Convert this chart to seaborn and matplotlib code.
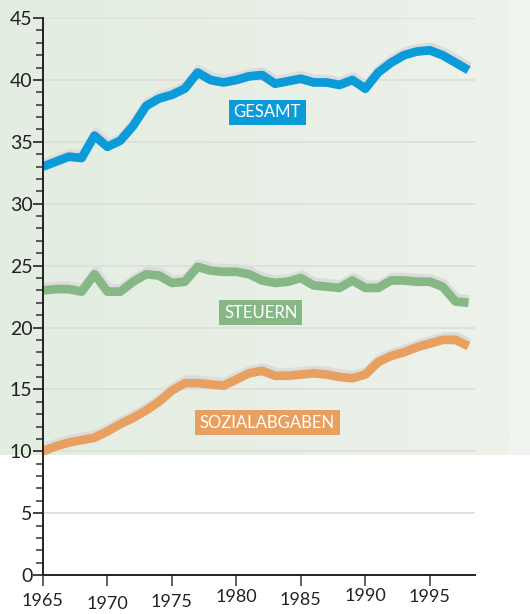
import numpy as np
import pandas as pd
import seaborn as sns
import matplotlib.pyplot as plt
import matplotlib.patheffects as pe
from matplotlib.transforms import ScaledTranslation
from matplotlib.colors import LinearSegmentedColormap

# Data (percent, yearly)
years = list(range(1965, 1999))
gesamt = [33.0, 33.4, 33.8, 33.7, 35.5, 34.6, 35.1, 36.3, 37.9, 38.5,
          38.8, 39.3, 40.6, 40.0, 39.8, 40.0, 40.3, 40.4, 39.7, 39.9,
          40.1, 39.8, 39.8, 39.6, 40.0, 39.3, 40.6, 41.4, 42.0, 42.3,
          42.4, 42.0, 41.4, 40.8]
steuern = [23.0, 23.1, 23.1, 22.9, 24.3, 22.9, 22.9, 23.7, 24.3, 24.2,
           23.6, 23.7, 24.9, 24.6, 24.5, 24.5, 24.3, 23.8, 23.6, 23.7,
           24.0, 23.4, 23.3, 23.2, 23.8, 23.2, 23.2, 23.8, 23.8, 23.7,
           23.7, 23.3, 22.1, 22.0]
sozial = [10.0, 10.4, 10.7, 10.9, 11.1, 11.6, 12.2, 12.7, 13.3, 14.0,
          14.9, 15.5, 15.5, 15.4, 15.3, 15.8, 16.3, 16.5, 16.1, 16.1,
          16.2, 16.3, 16.2, 16.0, 15.9, 16.2, 17.2, 17.7, 18.0, 18.4,
          18.7, 19.0, 19.0, 18.5]
series_names = ['GESAMT', 'STEUERN', 'SOZIALABGABEN']
series_colors = ['#0a9bd8', '#86b886', '#e8a060']
label_pos = [(1982.4, 37.4), (1981.9, 21.2), (1982.4, 12.3)]
xticks = [1965, 1970, 1975, 1980, 1985, 1990, 1995]
xlabel_shift = [0, 3, 1, -4, -1, -5, -4]  # px, labels are slightly staggered

df = pd.DataFrame({'year': years, 'GESAMT': gesamt,
                   'STEUERN': steuern, 'SOZIALABGABEN': sozial})

sns.set_style('ticks')
plt.rcParams['font.family'] = ['Lato', 'DejaVu Sans']

fig = plt.figure(figsize=(5.30, 6.14), dpi=100)

# light green gradient panel behind the upper part
bg = fig.add_axes([0, 0.259, 0.962, 0.741], zorder=-5)
grad = np.linspace(0, 1, 256).reshape(1, -1)
cmap = LinearSegmentedColormap.from_list('bg', ['#e3ede1', '#edf2eb'])
bg.imshow(grad, aspect='auto', cmap=cmap, extent=[0, 1, 0, 1])
bg.set_xlim(0, 1)
bg.set_ylim(0, 1)
bg.axis('off')
strip = fig.add_axes([0.962, 0.259, 0.038, 0.741], zorder=-5)
strip.set_facecolor('#f0f4ef')
strip.set_xticks([])
strip.set_yticks([])
for s in strip.spines.values():
    s.set_visible(False)

ax = fig.add_axes([0.081, 0.0635, 0.815, 0.907])
ax.patch.set_alpha(0)

for name, col in zip(series_names, series_colors):
    sns.lineplot(data=df, x='year', y=name, ax=ax, color=col, linewidth=6.3,
                 solid_capstyle='butt', solid_joinstyle='round',
                 path_effects=[pe.SimpleLineShadow(offset=(0.8, 2.4), shadow_color='#dcdcdc', alpha=1),
                               pe.Normal()])

for name, col, (lx, ly) in zip(series_names, series_colors, label_pos):
    ax.text(lx, ly, name, color='white', fontsize=12, ha='center', va='center',
            bbox=dict(boxstyle='square,pad=0.28', fc=col, ec='none'))

ax.set_xlim(1965, 1998.5)
ax.set_ylim(0, 45)
ax.set_xticks(xticks)
ax.set_yticks(range(0, 46, 5))
ax.set_yticks(range(0, 46, 1), minor=True)
ax.set_xlabel('')
ax.set_ylabel('')

for v in range(5, 46, 5):
    ax.axhline(v, color='#dedede', linewidth=1.3, zorder=0)

sns.despine(ax=ax)
ax.spines['left'].set_linewidth(1.4)
ax.spines['bottom'].set_linewidth(1.4)
ax.spines['left'].set_color('#222222')
ax.spines['bottom'].set_color('#222222')
ax.tick_params(axis='y', which='major', length=7, width=1.3, color='#333333',
               labelsize=14, pad=0.5, labelcolor='#222222')
ax.tick_params(axis='y', which='minor', length=5, width=1.1, color='#333333')
ax.tick_params(axis='x', which='major', length=8, width=1.3, color='#555555',
               labelsize=13, pad=5, labelcolor='#222222')

for lab, dy in zip(ax.get_xticklabels(), xlabel_shift):
    lab.set_transform(lab.get_transform() + ScaledTranslation(0, -dy / 100, fig.dpi_scale_trans))

fig.savefig('out.png', dpi=100)
